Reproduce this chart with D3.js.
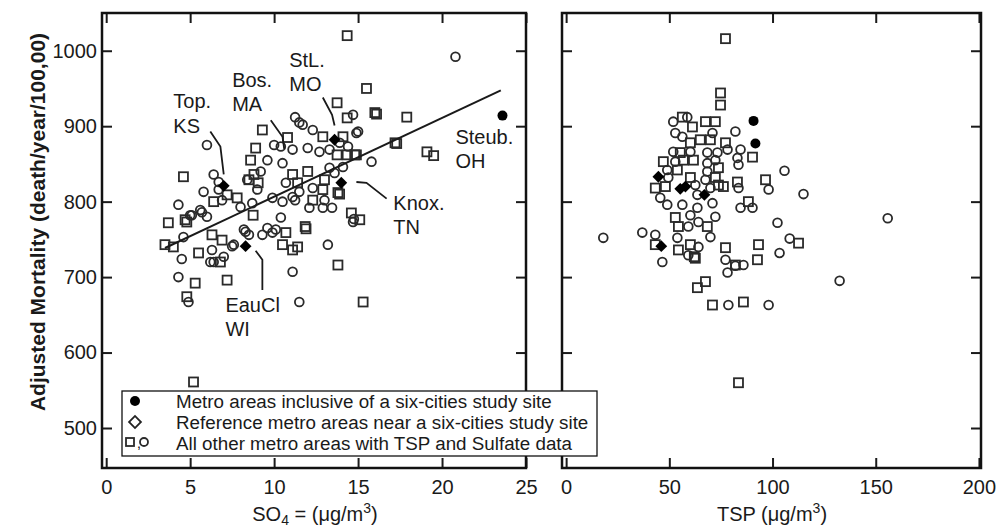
<!DOCTYPE html>
<meta charset="utf-8">
<style>

body {
  margin: 0;
  background: #fff;
}

svg {
  font-family: "Liberation Sans", Arial, Helvetica, sans-serif;
}

.tick text {
  font-size: 20px;
  fill: #1a1a1a;
}

.tick line {
  stroke: #1a1a1a;
  stroke-width: 2px;
}

.mark {
  fill: none;
  stroke: #2a2a2a;
  stroke-width: 1.8px;
}

</style>
<body>
    <div class='canvas'></div>
</body>
<script src="https://cdn.jsdelivr.net/npm/d3@7"></script>
<script>

// ---- data: [x, adjusted mortality] ----
// left panel, SO4 (ug/m3)
var so4Squares = [
  [4.6,833],[7.2,809],[7.8,805],[8.75,782],[3.7,772],[4.7,776],[8.8,836],[8.6,855],[8.9,871],[9.3,895],
  [8.5,829],[9.05,825],[13.75,931],[14.35,911],[16.0,918],[12.9,886],[14.9,862],[14.35,862],[13.75,862],
  [10.8,885],[12.0,840],[11.1,836],[13.0,829],[17.2,878],[11.4,825],[12.9,816],[12.3,802],[13.8,812],
  [14.6,785],[15.1,776],[11.85,767],[4.8,773],[6.3,756],[6.9,749],[10.7,759],[11.9,764],[10.5,743],
  [11.1,736],[11.4,740],[4.0,740],[5.5,732],[13.8,716],[5.3,692],[7.2,696],[4.8,674],[15.3,667],[6.8,720],
  [6.4,800],[5.2,561],[14.35,1020],[15.5,950],[16.1,916],[17.9,912],[17.3,877],[19.1,866],[19.5,861],
  [14.1,886],[13.9,810],[3.5,743],[14.8,862]
];
var so4Circles = [
  [6.0,875],[6.4,836],[6.7,826],[5.8,813],[6.7,816],[6.9,802],[4.3,796],[5.6,789],[5.1,782],[6.0,780],
  [8.0,793],[8.7,798],[9.0,816],[8.4,829],[4.6,753],[8.3,760],[14.7,915],[11.25,912],[11.7,902],[12.3,895],
  [11.5,905],[13.9,878],[14.4,873],[14.9,891],[13.3,869],[12.7,866],[12.0,871],[11.1,869],[10.4,873],
  [10.0,875],[9.6,855],[10.5,851],[13.3,845],[14.1,846],[13.6,838],[15.8,853],[10.7,825],[12.3,818],
  [11.5,813],[11.1,806],[9.9,805],[10.5,800],[11.25,802],[13.0,802],[12.1,792],[12.9,792],[13.45,792],
  [10.4,779],[14.7,773],[9.6,765],[10.1,763],[9.2,840],[7.6,743],[8.2,763],[8.5,756],[9.3,756],[9.9,759],
  [13.2,743],[4.5,724],[6.3,736],[6.2,720],[7.0,727],[11.1,707],[4.3,700],[4.9,667],[11.5,667],[5.0,782],
  [5.7,786],[7.5,741],[6.4,720],[20.8,992],[15.0,893],[14.75,777]
];
var so4SixCity = [[23.6,914]];
var so4Reference = [[7.0,821],[13.6,882],[14.0,825],[8.3,741]];

// right panel, TSP (ug/m3)
var tspSquares = [
  [77.2,1016],[74.8,944],[74.8,928],[56.3,912],[67.5,906],[72.3,906],[61.2,899],[65.0,882],[69.9,882],
  [60.2,878],[77.2,878],[90.3,859],[55.3,865],[47.1,853],[56.8,855],[61.7,855],[53.9,842],[73.8,845],
  [60.2,832],[72.3,832],[73.8,822],[43.2,818],[48.1,820],[76.2,820],[83.0,826],[96.6,829],[88.3,800],
  [52.9,779],[54.4,767],[68.4,767],[43.2,743],[54.4,736],[60.2,743],[62.6,725],[77.2,739],[82.0,716],
  [93.2,743],[92.7,723],[63.6,686],[67.5,694],[70.9,663],[85.9,667],[83.5,560],[112.6,745],[62.1,727]
];
var tspCircles = [
  [82.0,893],[51.9,906],[58.7,912],[52.9,891],[56.3,886],[70.9,891],[78.2,869],[84.5,869],[83.0,858],
  [83.5,849],[51.9,866],[60.2,866],[68.4,865],[73.3,865],[52.9,853],[68.4,851],[72.3,855],[49.0,842],
  [68.4,840],[49.5,832],[67.5,829],[62.6,822],[69.9,818],[83.5,818],[98.1,816],[105.8,841],[63.6,809],
  [45.6,805],[49.0,796],[56.3,796],[63.6,792],[70.9,798],[72.3,780],[84.5,792],[90.3,792],[102.4,772],
  [103.4,732],[60.2,782],[59.2,767],[64.1,773],[69.9,753],[36.9,759],[43.2,756],[46.6,720],[53.9,752],
  [64.1,740],[59.2,729],[18,752],[77.2,723],[85.9,716],[82,715],[78.2,706],[78.6,663],[98.1,663],
  [155.8,778],[115,810],[108.3,751],[132.5,695]
];
var tspSixCity = [[90.8,907],[91.7,877]];
var tspReference = [[44.7,833],[55.3,817],[57.8,820],[67.0,809],[46.1,741]];

// least squares fit shown on the SO4 panel
var fitIntercept = 702,
    fitSlope = 10.45,
    fitRange = [3.5, 23.5];

var yTicks = [500, 600, 700, 800, 900, 1000],
    so4Ticks = [0, 5, 10, 15, 20, 25],
    tspTicks = [0, 50, 100, 150, 200];

var cityNames = [["Top.", "KS"], ["Bos.", "MA"], ["StL.", "MO"], ["Steub.", "OH"], ["Knox.", "TN"], ["EauCl", "WI"]];
var cityLabelAt = [[4.0, 924], [7.5, 952], [10.9, 979], [20.8, 877], [17.1, 789], [7.1, 654]];
var cityLeaders = [
  [[6.2,893],[6.8,873],[7.0,836]],
  [[9.8,908],[10.5,886],[10.6,870]],
  [[12.9,938],[13.45,915],[13.6,901]],
  [],
  [[14.9,826],[15.5,825],[16.7,804]],
  [[8.9,735],[9.3,723],[9.3,683]]
];

var legendLabels = [
  "Metro areas inclusive of a six-cities study site",
  "Reference metro areas near a six-cities study site",
  "All other metro areas with TSP and Sulfate data"
];

// ---- layout ----
var w = 1000,
    h = 530,
    plotTop = 13,
    plotBottom = 468;

var svg = d3.select(".canvas").append("svg")
    .attr("width", w)
    .attr("height", h);

var y = d3.scaleLinear().domain([447, 1050]).range([plotBottom, plotTop]);
var xS = d3.scaleLinear().domain([-0.25, 25]).range([102, 526]);
var xT = d3.scaleLinear().domain([-2, 201]).range([562, 981]);

var diamond = d3.symbol().type(d3.symbolSquare).size(70);

function panel(x, ticks, showY, squares, circles, dots, diamonds) {
  var g = svg.append("g");
  var x0 = x.range()[0], x1 = x.range()[1];

  g.append("g").attr("transform", "translate(0," + plotBottom + ")")
    .call(d3.axisBottom(x).tickValues(ticks).tickSizeInner(-10).tickSizeOuter(0).tickPadding(12))
    .call(function(a) { a.select(".domain").remove(); });
  g.append("g").attr("transform", "translate(0," + plotTop + ")")
    .call(d3.axisTop(x).tickValues(ticks).tickSizeInner(-10).tickSizeOuter(0).tickFormat(""))
    .call(function(a) { a.select(".domain").remove(); });
  g.append("g").attr("transform", "translate(" + x0 + ",0)")
    .call(d3.axisLeft(y).tickValues(yTicks).tickSizeInner(-10).tickSizeOuter(0).tickPadding(5)
      .tickFormat(showY ? d3.format("d") : ""))
    .call(function(a) { a.select(".domain").remove(); });
  g.append("g").attr("transform", "translate(" + x1 + ",0)")
    .call(d3.axisRight(y).tickValues(yTicks).tickSizeInner(-10).tickSizeOuter(0).tickFormat(""))
    .call(function(a) { a.select(".domain").remove(); });

  g.selectAll(".sq").data(squares).enter().append("rect")
    .attr("class", "mark")
    .attr("x", function(d) { return x(d[0]) - 4.5; })
    .attr("y", function(d) { return y(d[1]) - 4.5; })
    .attr("width", 9).attr("height", 9);

  g.selectAll(".ci").data(circles).enter().append("circle")
    .attr("class", "mark")
    .attr("cx", function(d) { return x(d[0]); })
    .attr("cy", function(d) { return y(d[1]); })
    .attr("r", 4.4);

  g.selectAll(".dot").data(dots).enter().append("circle")
    .attr("cx", function(d) { return x(d[0]); })
    .attr("cy", function(d) { return y(d[1]); })
    .attr("r", 5)
    .style("fill", "#000");

  g.selectAll(".dia").data(diamonds).enter().append("path")
    .attr("d", diamond)
    .attr("transform", function(d) { return "translate(" + x(d[0]) + "," + y(d[1]) + ") rotate(45)"; })
    .style("fill", "#000");

  g.append("rect")
    .attr("x", x0).attr("y", plotTop)
    .attr("width", x1 - x0).attr("height", plotBottom - plotTop)
    .style("fill", "none").style("stroke", "#111").style("stroke-width", 2.5);

  return g;
}

var left = panel(xS, so4Ticks, true, so4Squares, so4Circles, so4SixCity, so4Reference);
var right = panel(xT, tspTicks, false, tspSquares, tspCircles, tspSixCity, tspReference);

// regression line
left.append("line")
  .attr("x1", xS(fitRange[0])).attr("y1", y(fitIntercept + fitSlope * fitRange[0]))
  .attr("x2", xS(fitRange[1])).attr("y2", y(fitIntercept + fitSlope * fitRange[1]))
  .style("stroke", "#1a1a1a").style("stroke-width", 2);

// city labels and leaders
var line = d3.line().x(function(d) { return xS(d[0]); }).y(function(d) { return y(d[1]); });
cityLeaders.forEach(function(pts) {
  if (pts.length) left.append("path").attr("d", line(pts))
    .style("fill", "none").style("stroke", "#1a1a1a").style("stroke-width", 1.8);
});
cityNames.forEach(function(name, i) {
  var t = left.append("text")
    .attr("x", xS(cityLabelAt[i][0]))
    .attr("y", y(cityLabelAt[i][1]))
    .style("font-size", "20px").style("fill", "#1a1a1a");
  name.forEach(function(s, j) {
    t.append("tspan").attr("x", xS(cityLabelAt[i][0])).attr("dy", j ? 24.5 : 0).text(s);
  });
});

// legend
var lg = svg.append("g").attr("transform", "translate(122,391)");
lg.append("rect").attr("width", 475).attr("height", 65)
  .style("fill", "#fff").style("stroke", "#111").style("stroke-width", 1.3);
lg.append("circle").attr("cx", 13).attr("cy", 10).attr("r", 5).style("fill", "#000");
lg.append("path").attr("d", diamond).attr("transform", "translate(13,31) rotate(45)")
  .style("fill", "none").style("stroke", "#222").style("stroke-width", 1.8);
lg.append("rect").attr("class", "mark").attr("x", 4).attr("y", 47).attr("width", 8).attr("height", 8);
lg.append("text").attr("x", 15).attr("y", 57).style("font-size", "14px").text(",");
lg.append("circle").attr("class", "mark").attr("cx", 22).attr("cy", 51).attr("r", 4);
lg.selectAll(".lt").data(legendLabels).enter().append("text")
  .attr("x", 54)
  .attr("y", function(d, i) { return 17 + i * 21; })
  .style("font-size", "18.8px").style("fill", "#1a1a1a")
  .text(function(d) { return d; });

// axis titles
var t1 = svg.append("text").attr("x", 315).attr("y", 521).attr("text-anchor", "middle")
  .style("font-size", "20px").style("fill", "#1a1a1a");
t1.append("tspan").text("SO");
t1.append("tspan").attr("dy", 4).style("font-size", "14px").text("4");
t1.append("tspan").attr("dy", -4).text(" = (\u03bcg/m");
t1.append("tspan").attr("dy", -8).style("font-size", "14px").text("3");
t1.append("tspan").attr("dy", 8).text(")");

var t2 = svg.append("text").attr("x", 772).attr("y", 521).attr("text-anchor", "middle")
  .style("font-size", "20px").style("fill", "#1a1a1a");
t2.append("tspan").text("TSP (\u03bcg/m");
t2.append("tspan").attr("dy", -8).style("font-size", "14px").text("3");
t2.append("tspan").attr("dy", 8).text(")");

svg.append("text")
  .attr("transform", "translate(45,222) rotate(-90)")
  .attr("text-anchor", "middle")
  .style("font-size", "21px").style("font-weight", "bold").style("fill", "#1a1a1a")
  .text("Adjusted Mortality (death/year/100,00)");

</script>
